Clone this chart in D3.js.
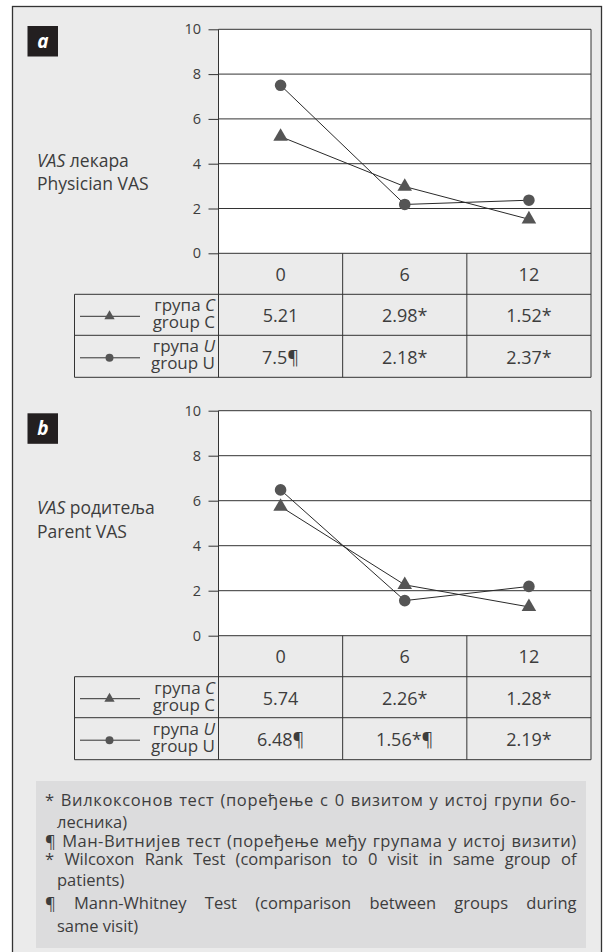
<!DOCTYPE html>
<html>
<head>
<meta charset="utf-8">
<script src="https://cdn.jsdelivr.net/npm/d3@7"></script>
<style>
  html, body { margin: 0; padding: 0; background: #ffffff; }
  svg { display: block; }
  text { font-family: "Open Sans", "Noto Sans", sans-serif; fill: #3d3d3d; }
</style>
</head>
<body>
<svg id="chart" width="610" height="952"></svg>
<script>
// Visits (months) and the VAS scale
const visits = ["0", "6", "12"];
const yTicks = [0, 2, 4, 6, 8, 10];

// Physician VAS
const physicianC = [5.21, 2.98, 1.52];
const physicianU = [7.5, 2.18, 2.37];
const physicianCMarks = ["", "*", "*"];
const physicianUMarks = ["¶", "*", "*"];

// Parent VAS
const parentC = [5.74, 2.26, 1.28];
const parentU = [6.48, 1.56, 2.19];
const parentCMarks = ["", "*", "*"];
const parentUMarks = ["¶", "*¶", "*"];

// Footnote lines: justified lines are flagged; "glyphShare" is the part of
// the justification slack spread over letters instead of word gaps
const footnoteLines = [
  { text: "* Вилкоксонов тест (поређење с 0 визитом у истој групи бо-", justify: true, indent: false, glyphShare: 0.75 },
  { text: "лесника)", justify: false, indent: true },
  { text: "¶ Ман-Витнијев тест (поређење међу групама у истој визити)", justify: true, indent: false, glyphShare: 0.75 },
  { text: "* Wilcoxon Rank Test (comparison to 0 visit in same group of", justify: true, indent: false, glyphShare: 0 },
  { text: "patients)", justify: false, indent: true },
  { text: "¶ Mann-Whitney Test (comparison between groups during", justify: true, indent: false, glyphShare: 0 },
  { text: "same visit)", justify: false, indent: true }
];
const footnoteBaselines = [806, 828, 847, 865, 886, 909, 932];

const svg = d3.select("#chart");
const ink = "#333333";
const markFill = "#555555";

// Outer frame
svg.append("rect")
  .attr("x", 12.5).attr("y", 6.5)
  .attr("width", 589).attr("height", 960)
  .attr("fill", "#ebebeb").attr("stroke", ink).attr("stroke-width", 1.3);

const x = d3.scaleBand().domain(visits).range([218.5, 591]);
const legendLeft = 74.5;

function drawPanel(cfg) {
  const g = svg.append("g");
  const y = d3.scaleLinear().domain([0, 10]).range([cfg.bottom, cfg.top]);
  const [x0, x1] = x.range();

  // Letter badge
  g.append("rect")
    .attr("x", 27.5).attr("y", cfg.badgeY)
    .attr("width", 30.5).attr("height", 30.5)
    .attr("fill", "#231f20");
  g.append("text")
    .attr("x", 42.8).attr("y", cfg.badgeY + 21.5)
    .attr("text-anchor", "middle")
    .style("fill", "#ffffff")
    .style("font-weight", "700").style("font-style", "italic")
    .style("font-size", "19px")
    .text(cfg.letter);

  // Y title
  const t1 = g.append("text").attr("x", 37).attr("y", cfg.titleY).style("font-size", "17.5px");
  t1.append("tspan").style("font-style", "italic").text("VAS");
  t1.append("tspan").text(" " + cfg.titleSr);
  g.append("text").attr("x", 37).attr("y", cfg.titleY + 23.5)
    .style("font-size", "17.5px").text(cfg.titleEn);

  // Plot area
  g.append("rect")
    .attr("x", x0).attr("y", cfg.top)
    .attr("width", x1 - x0).attr("height", cfg.bottom - cfg.top)
    .attr("fill", "#ffffff");

  // Gridlines
  g.append("g").selectAll("line").data(yTicks).join("line")
    .attr("x1", x0).attr("x2", x1)
    .attr("y1", d => y(d)).attr("y2", d => y(d))
    .attr("stroke", ink).attr("stroke-width", 1);

  // Axis with outward ticks
  const axis = d3.axisLeft(y).tickValues(yTicks).tickSize(10).tickPadding(7.5).tickFormat(d3.format("d"));
  const ag = g.append("g").attr("transform", `translate(${x0},0)`).call(axis);
  ag.select(".domain").remove();
  ag.selectAll(".tick line").attr("stroke", ink);
  ag.selectAll(".tick text")
    .style("font-family", "\"Open Sans\", sans-serif")
    .style("font-size", "14.5px").style("fill", "#3d3d3d");

  // Table geometry
  const headTop = cfg.bottom;
  const headBot = headTop + 41;
  const rowMid = headBot + 41;
  const tableBot = rowMid + 42;

  // Frame lines of plot and table
  const lines = [
    [x0, cfg.top, x0, tableBot],
    [x1, cfg.top, x1, tableBot],
    [legendLeft, headBot, x1, headBot],
    [legendLeft, rowMid, x1, rowMid],
    [legendLeft, tableBot, x1, tableBot],
    [legendLeft, headBot, legendLeft, tableBot]
  ];
  x.domain().slice(1).forEach(v => lines.push([x(v), headTop, x(v), tableBot]));
  g.append("g").selectAll("line").data(lines).join("line")
    .attr("x1", d => d[0]).attr("y1", d => d[1])
    .attr("x2", d => d[2]).attr("y2", d => d[3])
    .attr("stroke", ink).attr("stroke-width", 1);

  // Header row
  g.append("g").selectAll("text").data(visits).join("text")
    .attr("x", d => x(d) + x.bandwidth() / 2)
    .attr("y", headTop + 27.5)
    .attr("text-anchor", "middle")
    .style("font-size", "18px")
    .text(d => d);

  const series = [
    { key: "C", values: cfg.c, marks: cfg.cMarks, top: headBot, bot: rowMid,
      symbol: d3.symbolTriangle, size: 92, legendSize: 46 },
    { key: "U", values: cfg.u, marks: cfg.uMarks, top: rowMid, bot: tableBot,
      symbol: d3.symbolCircle, size: 106, legendSize: 50 }
  ];

  series.forEach(s => {
    // Table values
    g.append("g").selectAll("text").data(s.values).join("text")
      .attr("x", (d, i) => x(visits[i]) + x.bandwidth() / 2)
      .attr("y", (s.top + s.bot) / 2 + 7.5)
      .attr("text-anchor", "middle")
      .style("font-size", "18px")
      .text((d, i) => d + s.marks[i]);

    // Legend cell
    const ly = (s.top + s.bot) / 2 + 1.5;
    g.append("line")
      .attr("x1", 80).attr("x2", 140).attr("y1", ly).attr("y2", ly)
      .attr("stroke", ink).attr("stroke-width", 1);
    g.append("path")
      .attr("transform", `translate(109.5,${ly})`)
      .attr("d", d3.symbol(s.symbol, s.legendSize)())
      .attr("fill", markFill);
    const l1 = g.append("text").attr("x", 215).attr("y", s.top + 17)
      .attr("text-anchor", "end").style("font-size", "17px");
    l1.append("tspan").text("група ");
    l1.append("tspan").style("font-style", "italic").text(s.key);
    g.append("text").attr("x", 215).attr("y", s.top + 33.8)
      .attr("text-anchor", "end").style("font-size", "17px")
      .text("group " + s.key);

    // Series line and markers
    const pts = s.values.map((v, i) => [x(visits[i]) + x.bandwidth() / 2, y(v)]);
    g.append("path")
      .attr("d", d3.line()(pts))
      .attr("fill", "none").attr("stroke", "#2a2a2a").attr("stroke-width", 1);
    g.append("g").selectAll("path").data(pts).join("path")
      .attr("transform", d => `translate(${d[0]},${d[1]})`)
      .attr("d", d3.symbol(s.symbol, s.size)())
      .attr("fill", markFill);
  });
}

drawPanel({ letter: "a", top: 29.3, bottom: 253.3, badgeY: 26, titleY: 166.5,
  titleSr: "лекара", titleEn: "Physician VAS",
  c: physicianC, u: physicianU, cMarks: physicianCMarks, uMarks: physicianUMarks });

drawPanel({ letter: "b", top: 410.7, bottom: 635.7, badgeY: 413.3, titleY: 514,
  titleSr: "родитеља", titleEn: "Parent VAS",
  c: parentC, u: parentU, cMarks: parentCMarks, uMarks: parentUMarks });

// Footnote box
svg.append("rect")
  .attr("x", 36).attr("y", 781)
  .attr("width", 550).attr("height", 167)
  .attr("fill", "#dcdcdd");

const textLeft = 45, indentLeft = 57, textRight = 576.5;
svg.append("g").selectAll("text").data(footnoteLines).join("text")
  .attr("x", d => d.indent ? indentLeft : textLeft)
  .attr("y", (d, i) => footnoteBaselines[i])
  .style("font-size", "16.5px")
  .text(d => d.text)
  .each(function(d) {
    if (!d.justify) return;
    const sel = d3.select(this);
    const target = textRight - textLeft;
    const n = d.text.length;
    const extra = target - this.getComputedTextLength();
    const letterExtra = extra * d.glyphShare / (n - 1);
    if (letterExtra) sel.style("letter-spacing", letterExtra + "px");
    const rest = target - this.getComputedTextLength();
    const gaps = (d.text.match(/ /g) || []).length;
    if (gaps > 0) sel.style("word-spacing", (rest / gaps) + "px");
  });
</script>
</body>
</html>
